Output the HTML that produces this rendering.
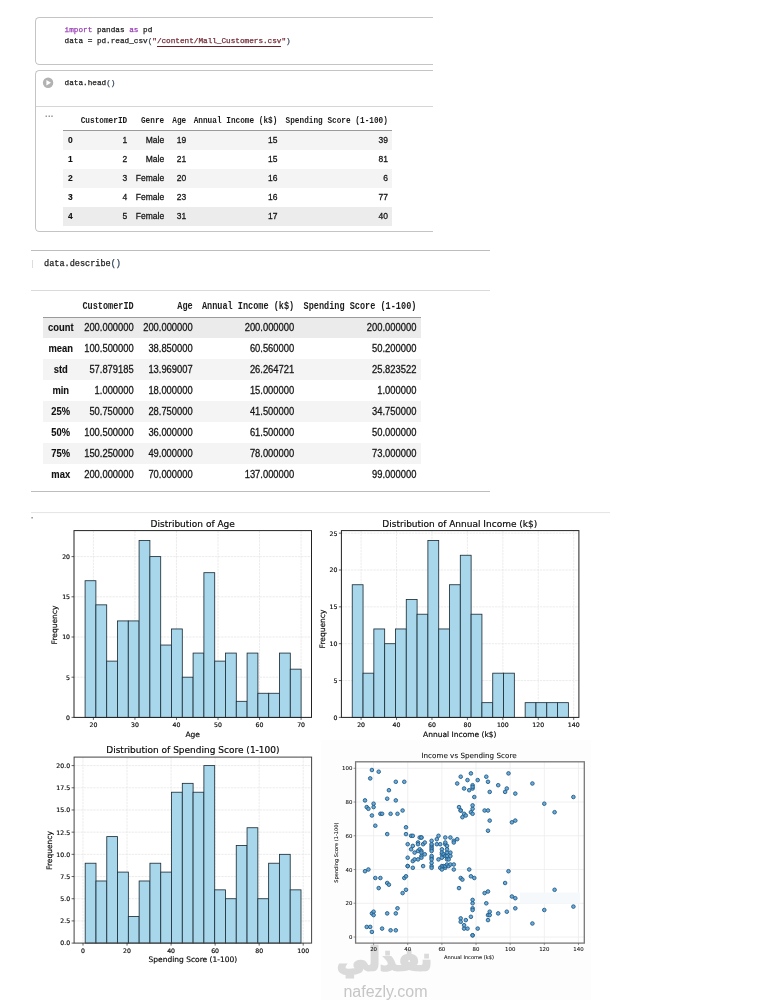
<!DOCTYPE html><html lang="en"><head><meta charset="utf-8"><title>Mall Customers</title><style>
html,body{margin:0;padding:0;background:#fff;}
body{width:770px;height:1000px;position:relative;overflow:hidden;font-family:"Liberation Sans",sans-serif;color:#1a1a1a;}
.abs{position:absolute;}
.code{position:absolute;font-family:"Liberation Mono",monospace;white-space:pre;color:#222;}
.c1{font-size:7.7px;line-height:11.8px;-webkit-text-stroke:0.25px;}
.c2{font-size:8.55px;line-height:12px;-webkit-text-stroke:0.25px;}
.kw{color:#9a3fb5;}
.str{color:#752b36;}
.par{color:#2e3f55;}
.hl{position:absolute;height:1px;background:#c9c9c9;}
table{position:absolute;border-collapse:collapse;table-layout:fixed;}
td,th{padding:0;white-space:nowrap;overflow:visible;text-align:right;font-weight:normal;}
#t1{left:63px;top:111px;font-size:8.5px;}
#t1 th{letter-spacing:0;font-family:"Liberation Mono",monospace;font-weight:bold;font-size:7.75px;height:19px;padding-right:4.3px;color:#1c1c1c;}
#t1 td{height:18.95px;padding-right:4.3px;color:#141414;-webkit-text-stroke:0.25px;}
#t1 thead tr{border-bottom:1px solid #9a9a9a;}
#t1 .ix{-webkit-text-stroke:0.12px;font-weight:bold;text-align:left;padding-left:5px;padding-right:0;color:#111;}
#t1 tr.g td{background:#f4f4f4;}#t1 tr.g:last-child td{background:#ececec;}
#t2{left:43px;top:295px;font-size:9.4px;}
#t2 th{letter-spacing:0;font-family:"Liberation Mono",monospace;font-weight:bold;font-size:8.55px;height:19.5px;padding-top:2px;padding-right:4.6px;color:#1c1c1c;}
#t2 td{height:20.9px;padding-right:4.6px;color:#141414;-webkit-text-stroke:0.25px;}
#t2 thead tr{border-bottom:1px solid #9a9a9a;}
#t2 .ix{-webkit-text-stroke:0.1px;font-weight:bold;text-align:center;padding-right:0;color:#111;}
#t2 tr.g td{background:#f4f4f4;}#t2 tr.g:first-child td{background:#ebebeb;}
svg text{font-family:"DejaVu Sans","Liberation Sans",sans-serif;fill:#0a0a0a;stroke:#0a0a0a;stroke-width:0.18px;}
svg text.s{stroke-width:0.07px;}
th span{display:inline-block;transform:scaleY(1.17);transform-origin:right center;}td span{display:inline-block;transform:scaleY(1.09);transform-origin:center center;}</style></head><body>
<div class="abs" style="left:35px;top:17px;width:398px;height:48px;border:1px solid #c4c4c4;border-right:none;border-radius:4.5px 0 0 4.5px;box-sizing:border-box;"></div>
<div class="code c1" style="left:64.6px;top:24.7px;"><span class="kw">import</span> pandas <span class="kw">as</span> pd
data = pd.read_csv<span class="par">(</span><span class="str">"<span style="border-bottom:1px solid #6a1f2a;padding-bottom:1px;">/content/Mall_Customers.csv</span>"</span><span class="par">)</span></div>
<div class="abs" style="left:35px;top:70px;width:398px;height:162px;border:1px solid #c4c4c4;border-right:none;border-radius:4.5px 0 0 4.5px;box-sizing:border-box;"></div>
<div class="hl" style="left:36px;top:106px;width:397px;background:#d6d6d6;"></div>
<svg class="abs" style="left:42px;top:77px;" width="12" height="12" viewBox="0 0 12 12"><circle cx="6.1" cy="5.7" r="5.2" fill="#b2b2b2"/><path d="M4.4 2.9 L9 5.7 L4.4 8.5 Z" fill="#fff"/></svg>
<div class="code c1" style="left:64.6px;top:78.3px;">data.head<span class="par">()</span></div>
<div class="abs" style="left:45px;top:108.5px;font-size:9px;font-weight:bold;color:#8c8c8c;letter-spacing:0.4px;">...</div>
<table id="t1"><colgroup><col style="width:14px"><col style="width:54.5px"><col style="width:37px"><col style="width:22px"><col style="width:91.2px"><col style="width:110.5px"></colgroup>
<thead><tr><th></th><th><span>CustomerID</span></th><th><span>Genre</span></th><th><span>Age</span></th><th><span>Annual Income (k$)</span></th><th><span>Spending Score (1-100)</span></th></tr></thead><tbody>
<tr class="g"><td class="ix"><span>0</span></td><td><span>1</span></td><td><span>Male</span></td><td><span>19</span></td><td><span>15</span></td><td><span>39</span></td></tr>
<tr class=""><td class="ix"><span>1</span></td><td><span>2</span></td><td><span>Male</span></td><td><span>21</span></td><td><span>15</span></td><td><span>81</span></td></tr>
<tr class="g"><td class="ix"><span>2</span></td><td><span>3</span></td><td><span>Female</span></td><td><span>20</span></td><td><span>16</span></td><td><span>6</span></td></tr>
<tr class=""><td class="ix"><span>3</span></td><td><span>4</span></td><td><span>Female</span></td><td><span>23</span></td><td><span>16</span></td><td><span>77</span></td></tr>
<tr class="g"><td class="ix"><span>4</span></td><td><span>5</span></td><td><span>Female</span></td><td><span>31</span></td><td><span>17</span></td><td><span>40</span></td></tr>
</tbody></table>
<div class="hl" style="left:31px;top:250px;width:459px;background:#bdbdbd;"></div>
<div class="abs" style="left:32px;top:260px;width:1px;height:8px;background:#ddd;"></div>
<div class="code c2" style="left:44px;top:258.2px;">data.describe<span class="par">()</span></div>
<div class="hl" style="left:31px;top:290px;width:459px;background:#dadada;"></div>
<table id="t2"><colgroup><col style="width:35.5px"><col style="width:59.8px"><col style="width:59px"><col style="width:101.5px"><col style="width:122.2px"></colgroup>
<thead><tr><th></th><th><span>CustomerID</span></th><th><span>Age</span></th><th><span>Annual Income (k$)</span></th><th><span>Spending Score (1-100)</span></th></tr></thead><tbody>
<tr class="g"><td class="ix"><span>count</span></td><td><span>200.000000</span></td><td><span>200.000000</span></td><td><span>200.000000</span></td><td><span>200.000000</span></td></tr>
<tr class=""><td class="ix"><span>mean</span></td><td><span>100.500000</span></td><td><span>38.850000</span></td><td><span>60.560000</span></td><td><span>50.200000</span></td></tr>
<tr class="g"><td class="ix"><span>std</span></td><td><span>57.879185</span></td><td><span>13.969007</span></td><td><span>26.264721</span></td><td><span>25.823522</span></td></tr>
<tr class=""><td class="ix"><span>min</span></td><td><span>1.000000</span></td><td><span>18.000000</span></td><td><span>15.000000</span></td><td><span>1.000000</span></td></tr>
<tr class="g"><td class="ix"><span>25%</span></td><td><span>50.750000</span></td><td><span>28.750000</span></td><td><span>41.500000</span></td><td><span>34.750000</span></td></tr>
<tr class=""><td class="ix"><span>50%</span></td><td><span>100.500000</span></td><td><span>36.000000</span></td><td><span>61.500000</span></td><td><span>50.000000</span></td></tr>
<tr class="g"><td class="ix"><span>75%</span></td><td><span>150.250000</span></td><td><span>49.000000</span></td><td><span>78.000000</span></td><td><span>73.000000</span></td></tr>
<tr class=""><td class="ix"><span>max</span></td><td><span>200.000000</span></td><td><span>70.000000</span></td><td><span>137.000000</span></td><td><span>99.000000</span></td></tr>
</tbody></table>
<div class="hl" style="left:31px;top:491px;width:459px;background:#bdbdbd;"></div>
<div class="abs" style="left:321px;top:740px;width:269.5px;height:260px;background:#fdfdfd;"></div>
<div class="abs" dir="rtl" lang="ar" style="left:337px;top:936.2px;line-height:46.5px;white-space:nowrap;font-family:'DejaVu Sans',sans-serif;font-weight:bold;font-size:31px;color:#dadada;-webkit-text-stroke:2.4px #dadada;">نفذلي</div>
<div class="abs" style="left:341.5px;top:983.1px;width:88px;text-align:center;font-family:'Liberation Sans',sans-serif;font-size:16px;line-height:18px;color:#c6c6c6;white-space:nowrap;">nafezly.com</div>
<svg class="abs" style="left:0;top:0;" width="770" height="1000" viewBox="0 0 770 1000">
<line x1="31" y1="512.6" x2="610" y2="512.6" stroke="#e4e4e4" stroke-width="1"/>
<rect x="31.5" y="517" width="1.2" height="1.5" fill="#777"/>
<g transform="translate(0.5,0)">
<rect x="73.5" y="530.6" width="237.5" height="186.79999999999995" fill="#fff"/>
<line x1="92.90" y1="530.6" x2="92.90" y2="717.4" stroke="#e4e4e4" stroke-width="0.7" stroke-dasharray="2.4 0.8"/>
<line x1="134.44" y1="530.6" x2="134.44" y2="717.4" stroke="#e4e4e4" stroke-width="0.7" stroke-dasharray="2.4 0.8"/>
<line x1="175.98" y1="530.6" x2="175.98" y2="717.4" stroke="#e4e4e4" stroke-width="0.7" stroke-dasharray="2.4 0.8"/>
<line x1="217.52" y1="530.6" x2="217.52" y2="717.4" stroke="#e4e4e4" stroke-width="0.7" stroke-dasharray="2.4 0.8"/>
<line x1="259.06" y1="530.6" x2="259.06" y2="717.4" stroke="#e4e4e4" stroke-width="0.7" stroke-dasharray="2.4 0.8"/>
<line x1="300.60" y1="530.6" x2="300.60" y2="717.4" stroke="#e4e4e4" stroke-width="0.7" stroke-dasharray="2.4 0.8"/>
<line x1="73.5" y1="717.40" x2="311" y2="717.40" stroke="#e4e4e4" stroke-width="0.7" stroke-dasharray="2.4 0.8"/>
<line x1="73.5" y1="677.20" x2="311" y2="677.20" stroke="#e4e4e4" stroke-width="0.7" stroke-dasharray="2.4 0.8"/>
<line x1="73.5" y1="637.00" x2="311" y2="637.00" stroke="#e4e4e4" stroke-width="0.7" stroke-dasharray="2.4 0.8"/>
<line x1="73.5" y1="596.80" x2="311" y2="596.80" stroke="#e4e4e4" stroke-width="0.7" stroke-dasharray="2.4 0.8"/>
<line x1="73.5" y1="556.60" x2="311" y2="556.60" stroke="#e4e4e4" stroke-width="0.7" stroke-dasharray="2.4 0.8"/>
<rect x="84.59" y="580.72" width="10.80" height="136.68" fill="#a8d7ec" stroke="#1f303a" stroke-width="0.85"/>
<rect x="95.39" y="604.84" width="10.80" height="112.56" fill="#a8d7ec" stroke="#1f303a" stroke-width="0.85"/>
<rect x="106.19" y="661.12" width="10.80" height="56.28" fill="#a8d7ec" stroke="#1f303a" stroke-width="0.85"/>
<rect x="116.99" y="620.92" width="10.80" height="96.48" fill="#a8d7ec" stroke="#1f303a" stroke-width="0.85"/>
<rect x="127.79" y="620.92" width="10.80" height="96.48" fill="#a8d7ec" stroke="#1f303a" stroke-width="0.85"/>
<rect x="138.59" y="540.52" width="10.80" height="176.88" fill="#a8d7ec" stroke="#1f303a" stroke-width="0.85"/>
<rect x="149.39" y="556.60" width="10.80" height="160.80" fill="#a8d7ec" stroke="#1f303a" stroke-width="0.85"/>
<rect x="160.19" y="645.04" width="10.80" height="72.36" fill="#a8d7ec" stroke="#1f303a" stroke-width="0.85"/>
<rect x="171.00" y="628.96" width="10.80" height="88.44" fill="#a8d7ec" stroke="#1f303a" stroke-width="0.85"/>
<rect x="181.80" y="677.20" width="10.80" height="40.20" fill="#a8d7ec" stroke="#1f303a" stroke-width="0.85"/>
<rect x="192.60" y="653.08" width="10.80" height="64.32" fill="#a8d7ec" stroke="#1f303a" stroke-width="0.85"/>
<rect x="203.40" y="572.68" width="10.80" height="144.72" fill="#a8d7ec" stroke="#1f303a" stroke-width="0.85"/>
<rect x="214.20" y="661.12" width="10.80" height="56.28" fill="#a8d7ec" stroke="#1f303a" stroke-width="0.85"/>
<rect x="225.00" y="653.08" width="10.80" height="64.32" fill="#a8d7ec" stroke="#1f303a" stroke-width="0.85"/>
<rect x="235.80" y="701.32" width="10.80" height="16.08" fill="#a8d7ec" stroke="#1f303a" stroke-width="0.85"/>
<rect x="246.60" y="653.08" width="10.80" height="64.32" fill="#a8d7ec" stroke="#1f303a" stroke-width="0.85"/>
<rect x="257.40" y="693.28" width="10.80" height="24.12" fill="#a8d7ec" stroke="#1f303a" stroke-width="0.85"/>
<rect x="268.20" y="693.28" width="10.80" height="24.12" fill="#a8d7ec" stroke="#1f303a" stroke-width="0.85"/>
<rect x="279.00" y="653.08" width="10.80" height="64.32" fill="#a8d7ec" stroke="#1f303a" stroke-width="0.85"/>
<rect x="289.80" y="669.16" width="10.80" height="48.24" fill="#a8d7ec" stroke="#1f303a" stroke-width="0.85"/>
<rect x="73.5" y="530.6" width="237.5" height="186.79999999999995" fill="none" stroke="#222" stroke-width="1"/>
<line x1="92.90" y1="717.4" x2="92.90" y2="719.9" stroke="#222" stroke-width="0.7"/>
<text x="92.90" y="727.0" font-size="6.2" text-anchor="middle">20</text>
<line x1="134.44" y1="717.4" x2="134.44" y2="719.9" stroke="#222" stroke-width="0.7"/>
<text x="134.44" y="727.0" font-size="6.2" text-anchor="middle">30</text>
<line x1="175.98" y1="717.4" x2="175.98" y2="719.9" stroke="#222" stroke-width="0.7"/>
<text x="175.98" y="727.0" font-size="6.2" text-anchor="middle">40</text>
<line x1="217.52" y1="717.4" x2="217.52" y2="719.9" stroke="#222" stroke-width="0.7"/>
<text x="217.52" y="727.0" font-size="6.2" text-anchor="middle">50</text>
<line x1="259.06" y1="717.4" x2="259.06" y2="719.9" stroke="#222" stroke-width="0.7"/>
<text x="259.06" y="727.0" font-size="6.2" text-anchor="middle">60</text>
<line x1="300.60" y1="717.4" x2="300.60" y2="719.9" stroke="#222" stroke-width="0.7"/>
<text x="300.60" y="727.0" font-size="6.2" text-anchor="middle">70</text>
<line x1="71.0" y1="717.40" x2="73.5" y2="717.40" stroke="#222" stroke-width="0.7"/>
<text x="69.5" y="719.75" font-size="6.2" text-anchor="end">0</text>
<line x1="71.0" y1="677.20" x2="73.5" y2="677.20" stroke="#222" stroke-width="0.7"/>
<text x="69.5" y="679.55" font-size="6.2" text-anchor="end">5</text>
<line x1="71.0" y1="637.00" x2="73.5" y2="637.00" stroke="#222" stroke-width="0.7"/>
<text x="69.5" y="639.35" font-size="6.2" text-anchor="end">10</text>
<line x1="71.0" y1="596.80" x2="73.5" y2="596.80" stroke="#222" stroke-width="0.7"/>
<text x="69.5" y="599.15" font-size="6.2" text-anchor="end">15</text>
<line x1="71.0" y1="556.60" x2="73.5" y2="556.60" stroke="#222" stroke-width="0.7"/>
<text x="69.5" y="558.95" font-size="6.2" text-anchor="end">20</text>
<text x="192.2" y="527.3" font-size="9" text-anchor="middle">Distribution of Age</text>
<text x="192.2" y="737.4" font-size="7.5" text-anchor="middle">Age</text>
<text transform="translate(56.8,625) rotate(-90)" font-size="7.5" text-anchor="middle">Frequency</text>
</g>
<rect x="341.4" y="530.6" width="237.5" height="186.79999999999995" fill="#fff"/>
<line x1="361.10" y1="530.6" x2="361.10" y2="717.4" stroke="#e4e4e4" stroke-width="0.7" stroke-dasharray="2.4 0.8"/>
<line x1="396.53" y1="530.6" x2="396.53" y2="717.4" stroke="#e4e4e4" stroke-width="0.7" stroke-dasharray="2.4 0.8"/>
<line x1="431.96" y1="530.6" x2="431.96" y2="717.4" stroke="#e4e4e4" stroke-width="0.7" stroke-dasharray="2.4 0.8"/>
<line x1="467.40" y1="530.6" x2="467.40" y2="717.4" stroke="#e4e4e4" stroke-width="0.7" stroke-dasharray="2.4 0.8"/>
<line x1="502.83" y1="530.6" x2="502.83" y2="717.4" stroke="#e4e4e4" stroke-width="0.7" stroke-dasharray="2.4 0.8"/>
<line x1="538.27" y1="530.6" x2="538.27" y2="717.4" stroke="#e4e4e4" stroke-width="0.7" stroke-dasharray="2.4 0.8"/>
<line x1="573.70" y1="530.6" x2="573.70" y2="717.4" stroke="#e4e4e4" stroke-width="0.7" stroke-dasharray="2.4 0.8"/>
<line x1="341.4" y1="717.40" x2="578.9" y2="717.40" stroke="#e4e4e4" stroke-width="0.7" stroke-dasharray="2.4 0.8"/>
<line x1="341.4" y1="680.55" x2="578.9" y2="680.55" stroke="#e4e4e4" stroke-width="0.7" stroke-dasharray="2.4 0.8"/>
<line x1="341.4" y1="643.70" x2="578.9" y2="643.70" stroke="#e4e4e4" stroke-width="0.7" stroke-dasharray="2.4 0.8"/>
<line x1="341.4" y1="606.85" x2="578.9" y2="606.85" stroke="#e4e4e4" stroke-width="0.7" stroke-dasharray="2.4 0.8"/>
<line x1="341.4" y1="570.00" x2="578.9" y2="570.00" stroke="#e4e4e4" stroke-width="0.7" stroke-dasharray="2.4 0.8"/>
<line x1="341.4" y1="533.15" x2="578.9" y2="533.15" stroke="#e4e4e4" stroke-width="0.7" stroke-dasharray="2.4 0.8"/>
<rect x="352.24" y="584.74" width="10.81" height="132.66" fill="#a8d7ec" stroke="#1f303a" stroke-width="0.85"/>
<rect x="363.05" y="673.18" width="10.81" height="44.22" fill="#a8d7ec" stroke="#1f303a" stroke-width="0.85"/>
<rect x="373.85" y="628.96" width="10.81" height="88.44" fill="#a8d7ec" stroke="#1f303a" stroke-width="0.85"/>
<rect x="384.66" y="643.70" width="10.81" height="73.70" fill="#a8d7ec" stroke="#1f303a" stroke-width="0.85"/>
<rect x="395.47" y="628.96" width="10.81" height="88.44" fill="#a8d7ec" stroke="#1f303a" stroke-width="0.85"/>
<rect x="406.28" y="599.48" width="10.81" height="117.92" fill="#a8d7ec" stroke="#1f303a" stroke-width="0.85"/>
<rect x="417.08" y="614.22" width="10.81" height="103.18" fill="#a8d7ec" stroke="#1f303a" stroke-width="0.85"/>
<rect x="427.89" y="540.52" width="10.81" height="176.88" fill="#a8d7ec" stroke="#1f303a" stroke-width="0.85"/>
<rect x="438.70" y="628.96" width="10.81" height="88.44" fill="#a8d7ec" stroke="#1f303a" stroke-width="0.85"/>
<rect x="449.50" y="584.74" width="10.81" height="132.66" fill="#a8d7ec" stroke="#1f303a" stroke-width="0.85"/>
<rect x="460.31" y="555.26" width="10.81" height="162.14" fill="#a8d7ec" stroke="#1f303a" stroke-width="0.85"/>
<rect x="471.12" y="614.22" width="10.81" height="103.18" fill="#a8d7ec" stroke="#1f303a" stroke-width="0.85"/>
<rect x="481.93" y="702.66" width="10.81" height="14.74" fill="#a8d7ec" stroke="#1f303a" stroke-width="0.85"/>
<rect x="492.73" y="673.18" width="10.81" height="44.22" fill="#a8d7ec" stroke="#1f303a" stroke-width="0.85"/>
<rect x="503.54" y="673.18" width="10.81" height="44.22" fill="#a8d7ec" stroke="#1f303a" stroke-width="0.85"/>
<rect x="525.16" y="702.66" width="10.81" height="14.74" fill="#a8d7ec" stroke="#1f303a" stroke-width="0.85"/>
<rect x="535.96" y="702.66" width="10.81" height="14.74" fill="#a8d7ec" stroke="#1f303a" stroke-width="0.85"/>
<rect x="546.77" y="702.66" width="10.81" height="14.74" fill="#a8d7ec" stroke="#1f303a" stroke-width="0.85"/>
<rect x="557.58" y="702.66" width="10.81" height="14.74" fill="#a8d7ec" stroke="#1f303a" stroke-width="0.85"/>
<rect x="341.4" y="530.6" width="237.5" height="186.79999999999995" fill="none" stroke="#222" stroke-width="1"/>
<line x1="361.10" y1="717.4" x2="361.10" y2="719.9" stroke="#222" stroke-width="0.7"/>
<text x="361.10" y="727.0" font-size="6.2" text-anchor="middle">20</text>
<line x1="396.53" y1="717.4" x2="396.53" y2="719.9" stroke="#222" stroke-width="0.7"/>
<text x="396.53" y="727.0" font-size="6.2" text-anchor="middle">40</text>
<line x1="431.96" y1="717.4" x2="431.96" y2="719.9" stroke="#222" stroke-width="0.7"/>
<text x="431.96" y="727.0" font-size="6.2" text-anchor="middle">60</text>
<line x1="467.40" y1="717.4" x2="467.40" y2="719.9" stroke="#222" stroke-width="0.7"/>
<text x="467.40" y="727.0" font-size="6.2" text-anchor="middle">80</text>
<line x1="502.83" y1="717.4" x2="502.83" y2="719.9" stroke="#222" stroke-width="0.7"/>
<text x="502.83" y="727.0" font-size="6.2" text-anchor="middle">100</text>
<line x1="538.27" y1="717.4" x2="538.27" y2="719.9" stroke="#222" stroke-width="0.7"/>
<text x="538.27" y="727.0" font-size="6.2" text-anchor="middle">120</text>
<line x1="573.70" y1="717.4" x2="573.70" y2="719.9" stroke="#222" stroke-width="0.7"/>
<text x="573.70" y="727.0" font-size="6.2" text-anchor="middle">140</text>
<line x1="338.9" y1="717.40" x2="341.4" y2="717.40" stroke="#222" stroke-width="0.7"/>
<text x="337.4" y="719.75" font-size="6.2" text-anchor="end">0</text>
<line x1="338.9" y1="680.55" x2="341.4" y2="680.55" stroke="#222" stroke-width="0.7"/>
<text x="337.4" y="682.90" font-size="6.2" text-anchor="end">5</text>
<line x1="338.9" y1="643.70" x2="341.4" y2="643.70" stroke="#222" stroke-width="0.7"/>
<text x="337.4" y="646.05" font-size="6.2" text-anchor="end">10</text>
<line x1="338.9" y1="606.85" x2="341.4" y2="606.85" stroke="#222" stroke-width="0.7"/>
<text x="337.4" y="609.20" font-size="6.2" text-anchor="end">15</text>
<line x1="338.9" y1="570.00" x2="341.4" y2="570.00" stroke="#222" stroke-width="0.7"/>
<text x="337.4" y="572.35" font-size="6.2" text-anchor="end">20</text>
<line x1="338.9" y1="533.15" x2="341.4" y2="533.15" stroke="#222" stroke-width="0.7"/>
<text x="337.4" y="535.50" font-size="6.2" text-anchor="end">25</text>
<text x="459.8" y="527.3" font-size="9" text-anchor="middle">Distribution of Annual Income (k$)</text>
<text x="459.8" y="737.4" font-size="7.5" text-anchor="middle">Annual Income (k$)</text>
<text transform="translate(324.7,629) rotate(-90)" font-size="7.5" text-anchor="middle">Frequency</text>
<g transform="translate(0.6,0)">
<rect x="73.5" y="757.1" width="237.5" height="186.0" fill="#fff"/>
<line x1="82.40" y1="757.1" x2="82.40" y2="943.1" stroke="#e4e4e4" stroke-width="0.7" stroke-dasharray="2.4 0.8"/>
<line x1="126.44" y1="757.1" x2="126.44" y2="943.1" stroke="#e4e4e4" stroke-width="0.7" stroke-dasharray="2.4 0.8"/>
<line x1="170.48" y1="757.1" x2="170.48" y2="943.1" stroke="#e4e4e4" stroke-width="0.7" stroke-dasharray="2.4 0.8"/>
<line x1="214.52" y1="757.1" x2="214.52" y2="943.1" stroke="#e4e4e4" stroke-width="0.7" stroke-dasharray="2.4 0.8"/>
<line x1="258.56" y1="757.1" x2="258.56" y2="943.1" stroke="#e4e4e4" stroke-width="0.7" stroke-dasharray="2.4 0.8"/>
<line x1="302.60" y1="757.1" x2="302.60" y2="943.1" stroke="#e4e4e4" stroke-width="0.7" stroke-dasharray="2.4 0.8"/>
<line x1="73.5" y1="943.10" x2="311" y2="943.10" stroke="#e4e4e4" stroke-width="0.7" stroke-dasharray="2.4 0.8"/>
<line x1="73.5" y1="920.91" x2="311" y2="920.91" stroke="#e4e4e4" stroke-width="0.7" stroke-dasharray="2.4 0.8"/>
<line x1="73.5" y1="898.73" x2="311" y2="898.73" stroke="#e4e4e4" stroke-width="0.7" stroke-dasharray="2.4 0.8"/>
<line x1="73.5" y1="876.54" x2="311" y2="876.54" stroke="#e4e4e4" stroke-width="0.7" stroke-dasharray="2.4 0.8"/>
<line x1="73.5" y1="854.35" x2="311" y2="854.35" stroke="#e4e4e4" stroke-width="0.7" stroke-dasharray="2.4 0.8"/>
<line x1="73.5" y1="832.16" x2="311" y2="832.16" stroke="#e4e4e4" stroke-width="0.7" stroke-dasharray="2.4 0.8"/>
<line x1="73.5" y1="809.98" x2="311" y2="809.98" stroke="#e4e4e4" stroke-width="0.7" stroke-dasharray="2.4 0.8"/>
<line x1="73.5" y1="787.79" x2="311" y2="787.79" stroke="#e4e4e4" stroke-width="0.7" stroke-dasharray="2.4 0.8"/>
<line x1="73.5" y1="765.60" x2="311" y2="765.60" stroke="#e4e4e4" stroke-width="0.7" stroke-dasharray="2.4 0.8"/>
<rect x="84.60" y="863.23" width="10.79" height="79.88" fill="#a8d7ec" stroke="#1f303a" stroke-width="0.85"/>
<rect x="95.39" y="880.98" width="10.79" height="62.12" fill="#a8d7ec" stroke="#1f303a" stroke-width="0.85"/>
<rect x="106.18" y="836.60" width="10.79" height="106.50" fill="#a8d7ec" stroke="#1f303a" stroke-width="0.85"/>
<rect x="116.97" y="872.10" width="10.79" height="71.00" fill="#a8d7ec" stroke="#1f303a" stroke-width="0.85"/>
<rect x="127.76" y="916.48" width="10.79" height="26.62" fill="#a8d7ec" stroke="#1f303a" stroke-width="0.85"/>
<rect x="138.55" y="880.98" width="10.79" height="62.12" fill="#a8d7ec" stroke="#1f303a" stroke-width="0.85"/>
<rect x="149.34" y="863.23" width="10.79" height="79.88" fill="#a8d7ec" stroke="#1f303a" stroke-width="0.85"/>
<rect x="160.13" y="872.10" width="10.79" height="71.00" fill="#a8d7ec" stroke="#1f303a" stroke-width="0.85"/>
<rect x="170.92" y="792.23" width="10.79" height="150.88" fill="#a8d7ec" stroke="#1f303a" stroke-width="0.85"/>
<rect x="181.71" y="783.35" width="10.79" height="159.75" fill="#a8d7ec" stroke="#1f303a" stroke-width="0.85"/>
<rect x="192.50" y="792.23" width="10.79" height="150.88" fill="#a8d7ec" stroke="#1f303a" stroke-width="0.85"/>
<rect x="203.29" y="765.60" width="10.79" height="177.50" fill="#a8d7ec" stroke="#1f303a" stroke-width="0.85"/>
<rect x="214.08" y="889.85" width="10.79" height="53.25" fill="#a8d7ec" stroke="#1f303a" stroke-width="0.85"/>
<rect x="224.87" y="898.73" width="10.79" height="44.38" fill="#a8d7ec" stroke="#1f303a" stroke-width="0.85"/>
<rect x="235.66" y="845.48" width="10.79" height="97.62" fill="#a8d7ec" stroke="#1f303a" stroke-width="0.85"/>
<rect x="246.45" y="827.73" width="10.79" height="115.38" fill="#a8d7ec" stroke="#1f303a" stroke-width="0.85"/>
<rect x="257.24" y="898.73" width="10.79" height="44.38" fill="#a8d7ec" stroke="#1f303a" stroke-width="0.85"/>
<rect x="268.03" y="863.23" width="10.79" height="79.88" fill="#a8d7ec" stroke="#1f303a" stroke-width="0.85"/>
<rect x="278.82" y="854.35" width="10.79" height="88.75" fill="#a8d7ec" stroke="#1f303a" stroke-width="0.85"/>
<rect x="289.61" y="889.85" width="10.79" height="53.25" fill="#a8d7ec" stroke="#1f303a" stroke-width="0.85"/>
<rect x="73.5" y="757.1" width="237.5" height="186.0" fill="none" stroke="#444" stroke-width="1"/>
<line x1="82.40" y1="943.1" x2="82.40" y2="945.6" stroke="#222" stroke-width="0.7"/>
<text x="82.40" y="952.7" font-size="6.2" text-anchor="middle">0</text>
<line x1="126.44" y1="943.1" x2="126.44" y2="945.6" stroke="#222" stroke-width="0.7"/>
<text x="126.44" y="952.7" font-size="6.2" text-anchor="middle">20</text>
<line x1="170.48" y1="943.1" x2="170.48" y2="945.6" stroke="#222" stroke-width="0.7"/>
<text x="170.48" y="952.7" font-size="6.2" text-anchor="middle">40</text>
<line x1="214.52" y1="943.1" x2="214.52" y2="945.6" stroke="#222" stroke-width="0.7"/>
<text x="214.52" y="952.7" font-size="6.2" text-anchor="middle">60</text>
<line x1="258.56" y1="943.1" x2="258.56" y2="945.6" stroke="#222" stroke-width="0.7"/>
<text x="258.56" y="952.7" font-size="6.2" text-anchor="middle">80</text>
<line x1="302.60" y1="943.1" x2="302.60" y2="945.6" stroke="#222" stroke-width="0.7"/>
<text x="302.60" y="952.7" font-size="6.2" text-anchor="middle">100</text>
<line x1="71.0" y1="943.10" x2="73.5" y2="943.10" stroke="#222" stroke-width="0.7"/>
<text x="69.5" y="945.45" font-size="6.2" text-anchor="end">0.0</text>
<line x1="71.0" y1="920.91" x2="73.5" y2="920.91" stroke="#222" stroke-width="0.7"/>
<text x="69.5" y="923.26" font-size="6.2" text-anchor="end">2.5</text>
<line x1="71.0" y1="898.73" x2="73.5" y2="898.73" stroke="#222" stroke-width="0.7"/>
<text x="69.5" y="901.08" font-size="6.2" text-anchor="end">5.0</text>
<line x1="71.0" y1="876.54" x2="73.5" y2="876.54" stroke="#222" stroke-width="0.7"/>
<text x="69.5" y="878.89" font-size="6.2" text-anchor="end">7.5</text>
<line x1="71.0" y1="854.35" x2="73.5" y2="854.35" stroke="#222" stroke-width="0.7"/>
<text x="69.5" y="856.70" font-size="6.2" text-anchor="end">10.0</text>
<line x1="71.0" y1="832.16" x2="73.5" y2="832.16" stroke="#222" stroke-width="0.7"/>
<text x="69.5" y="834.51" font-size="6.2" text-anchor="end">12.5</text>
<line x1="71.0" y1="809.98" x2="73.5" y2="809.98" stroke="#222" stroke-width="0.7"/>
<text x="69.5" y="812.33" font-size="6.2" text-anchor="end">15.0</text>
<line x1="71.0" y1="787.79" x2="73.5" y2="787.79" stroke="#222" stroke-width="0.7"/>
<text x="69.5" y="790.14" font-size="6.2" text-anchor="end">17.5</text>
<line x1="71.0" y1="765.60" x2="73.5" y2="765.60" stroke="#222" stroke-width="0.7"/>
<text x="69.5" y="767.95" font-size="6.2" text-anchor="end">20.0</text>
<text x="192.3" y="753" font-size="9" text-anchor="middle">Distribution of Spending Score (1-100)</text>
<text x="192.3" y="962.3" font-size="7.5" text-anchor="middle">Spending Score (1-100)</text>
<text transform="translate(50.9,850.5) rotate(-90)" font-size="7.5" text-anchor="middle">Frequency</text>
</g>
<rect x="355.6" y="761.8" width="228.69999999999993" height="181.30000000000007" fill="#fff"/>
<line x1="373.57" y1="761.8" x2="373.57" y2="943.1" stroke="#ececec" stroke-width="0.8"/>
<line x1="407.72" y1="761.8" x2="407.72" y2="943.1" stroke="#ececec" stroke-width="0.8"/>
<line x1="441.88" y1="761.8" x2="441.88" y2="943.1" stroke="#ececec" stroke-width="0.8"/>
<line x1="476.03" y1="761.8" x2="476.03" y2="943.1" stroke="#ececec" stroke-width="0.8"/>
<line x1="510.18" y1="761.8" x2="510.18" y2="943.1" stroke="#ececec" stroke-width="0.8"/>
<line x1="544.33" y1="761.8" x2="544.33" y2="943.1" stroke="#ececec" stroke-width="0.8"/>
<line x1="578.48" y1="761.8" x2="578.48" y2="943.1" stroke="#ececec" stroke-width="0.8"/>
<line x1="355.6" y1="937.00" x2="584.3" y2="937.00" stroke="#ececec" stroke-width="0.8"/>
<line x1="355.6" y1="903.26" x2="584.3" y2="903.26" stroke="#ececec" stroke-width="0.8"/>
<line x1="355.6" y1="869.52" x2="584.3" y2="869.52" stroke="#ececec" stroke-width="0.8"/>
<line x1="355.6" y1="835.78" x2="584.3" y2="835.78" stroke="#ececec" stroke-width="0.8"/>
<line x1="355.6" y1="802.04" x2="584.3" y2="802.04" stroke="#ececec" stroke-width="0.8"/>
<line x1="355.6" y1="768.30" x2="584.3" y2="768.30" stroke="#ececec" stroke-width="0.8"/>
<rect x="520" y="892.5" width="60" height="11" fill="#f6f9fc"/>
<g fill="#5ba3d4" fill-opacity="0.9" stroke="#235a86" stroke-width="0.9">
<circle cx="365.0" cy="871.2" r="1.8"/>
<circle cx="365.0" cy="800.4" r="1.8"/>
<circle cx="366.7" cy="926.9" r="1.8"/>
<circle cx="366.7" cy="807.1" r="1.8"/>
<circle cx="368.4" cy="869.5" r="1.8"/>
<circle cx="368.4" cy="808.8" r="1.8"/>
<circle cx="370.2" cy="926.9" r="1.8"/>
<circle cx="370.2" cy="778.4" r="1.8"/>
<circle cx="371.9" cy="931.9" r="1.8"/>
<circle cx="371.9" cy="815.5" r="1.8"/>
<circle cx="371.9" cy="913.4" r="1.8"/>
<circle cx="371.9" cy="770.0" r="1.8"/>
<circle cx="373.6" cy="911.7" r="1.8"/>
<circle cx="373.6" cy="807.1" r="1.8"/>
<circle cx="373.6" cy="915.1" r="1.8"/>
<circle cx="373.6" cy="803.7" r="1.8"/>
<circle cx="375.3" cy="878.0" r="1.8"/>
<circle cx="375.3" cy="825.7" r="1.8"/>
<circle cx="378.7" cy="888.1" r="1.8"/>
<circle cx="378.7" cy="771.7" r="1.8"/>
<circle cx="380.4" cy="878.0" r="1.8"/>
<circle cx="380.4" cy="813.8" r="1.8"/>
<circle cx="382.1" cy="928.6" r="1.8"/>
<circle cx="382.1" cy="813.8" r="1.8"/>
<circle cx="387.2" cy="913.4" r="1.8"/>
<circle cx="387.2" cy="798.7" r="1.8"/>
<circle cx="387.2" cy="883.0" r="1.8"/>
<circle cx="387.2" cy="834.1" r="1.8"/>
<circle cx="388.9" cy="884.7" r="1.8"/>
<circle cx="388.9" cy="790.2" r="1.8"/>
<circle cx="390.6" cy="930.3" r="1.8"/>
<circle cx="390.6" cy="813.8" r="1.8"/>
<circle cx="395.8" cy="930.3" r="1.8"/>
<circle cx="395.8" cy="781.8" r="1.8"/>
<circle cx="395.8" cy="913.4" r="1.8"/>
<circle cx="395.8" cy="800.4" r="1.8"/>
<circle cx="397.5" cy="908.3" r="1.8"/>
<circle cx="397.5" cy="813.8" r="1.8"/>
<circle cx="402.6" cy="893.1" r="1.8"/>
<circle cx="402.6" cy="810.5" r="1.8"/>
<circle cx="404.3" cy="878.0" r="1.8"/>
<circle cx="404.3" cy="781.8" r="1.8"/>
<circle cx="406.0" cy="876.3" r="1.8"/>
<circle cx="406.0" cy="834.1" r="1.8"/>
<circle cx="406.0" cy="889.8" r="1.8"/>
<circle cx="406.0" cy="827.3" r="1.8"/>
<circle cx="407.7" cy="844.2" r="1.8"/>
<circle cx="407.7" cy="857.7" r="1.8"/>
<circle cx="407.7" cy="866.1" r="1.8"/>
<circle cx="407.7" cy="866.1" r="1.8"/>
<circle cx="411.1" cy="849.3" r="1.8"/>
<circle cx="411.1" cy="835.8" r="1.8"/>
<circle cx="412.8" cy="845.9" r="1.8"/>
<circle cx="412.8" cy="835.8" r="1.8"/>
<circle cx="412.8" cy="861.1" r="1.8"/>
<circle cx="412.8" cy="867.8" r="1.8"/>
<circle cx="414.6" cy="852.6" r="1.8"/>
<circle cx="414.6" cy="859.4" r="1.8"/>
<circle cx="418.0" cy="851.0" r="1.8"/>
<circle cx="418.0" cy="859.4" r="1.8"/>
<circle cx="418.0" cy="842.5" r="1.8"/>
<circle cx="418.0" cy="844.2" r="1.8"/>
<circle cx="419.7" cy="849.3" r="1.8"/>
<circle cx="419.7" cy="837.5" r="1.8"/>
<circle cx="421.4" cy="851.0" r="1.8"/>
<circle cx="421.4" cy="837.5" r="1.8"/>
<circle cx="421.4" cy="852.6" r="1.8"/>
<circle cx="421.4" cy="856.0" r="1.8"/>
<circle cx="421.4" cy="837.5" r="1.8"/>
<circle cx="421.4" cy="857.7" r="1.8"/>
<circle cx="423.1" cy="844.2" r="1.8"/>
<circle cx="423.1" cy="866.1" r="1.8"/>
<circle cx="424.8" cy="854.3" r="1.8"/>
<circle cx="424.8" cy="842.5" r="1.8"/>
<circle cx="431.6" cy="857.7" r="1.8"/>
<circle cx="431.6" cy="845.9" r="1.8"/>
<circle cx="431.6" cy="847.6" r="1.8"/>
<circle cx="431.6" cy="856.0" r="1.8"/>
<circle cx="431.6" cy="849.3" r="1.8"/>
<circle cx="431.6" cy="866.1" r="1.8"/>
<circle cx="431.6" cy="851.0" r="1.8"/>
<circle cx="431.6" cy="844.2" r="1.8"/>
<circle cx="431.6" cy="867.8" r="1.8"/>
<circle cx="431.6" cy="862.8" r="1.8"/>
<circle cx="431.6" cy="840.8" r="1.8"/>
<circle cx="431.6" cy="859.4" r="1.8"/>
<circle cx="436.8" cy="839.2" r="1.8"/>
<circle cx="436.8" cy="844.2" r="1.8"/>
<circle cx="438.5" cy="835.8" r="1.8"/>
<circle cx="438.5" cy="859.4" r="1.8"/>
<circle cx="440.2" cy="844.2" r="1.8"/>
<circle cx="440.2" cy="867.8" r="1.8"/>
<circle cx="441.9" cy="854.3" r="1.8"/>
<circle cx="441.9" cy="869.5" r="1.8"/>
<circle cx="441.9" cy="866.1" r="1.8"/>
<circle cx="441.9" cy="849.3" r="1.8"/>
<circle cx="441.9" cy="857.7" r="1.8"/>
<circle cx="441.9" cy="852.6" r="1.8"/>
<circle cx="443.6" cy="866.1" r="1.8"/>
<circle cx="443.6" cy="854.3" r="1.8"/>
<circle cx="445.3" cy="867.8" r="1.8"/>
<circle cx="445.3" cy="856.0" r="1.8"/>
<circle cx="445.3" cy="837.5" r="1.8"/>
<circle cx="445.3" cy="844.2" r="1.8"/>
<circle cx="445.3" cy="842.5" r="1.8"/>
<circle cx="445.3" cy="866.1" r="1.8"/>
<circle cx="447.0" cy="852.6" r="1.8"/>
<circle cx="447.0" cy="859.4" r="1.8"/>
<circle cx="447.0" cy="864.5" r="1.8"/>
<circle cx="447.0" cy="856.0" r="1.8"/>
<circle cx="447.0" cy="849.3" r="1.8"/>
<circle cx="447.0" cy="845.9" r="1.8"/>
<circle cx="448.7" cy="866.1" r="1.8"/>
<circle cx="448.7" cy="859.4" r="1.8"/>
<circle cx="450.4" cy="856.0" r="1.8"/>
<circle cx="450.4" cy="852.6" r="1.8"/>
<circle cx="450.4" cy="864.5" r="1.8"/>
<circle cx="450.4" cy="837.5" r="1.8"/>
<circle cx="453.8" cy="864.5" r="1.8"/>
<circle cx="453.8" cy="840.8" r="1.8"/>
<circle cx="453.8" cy="842.5" r="1.8"/>
<circle cx="453.8" cy="869.5" r="1.8"/>
<circle cx="457.2" cy="839.2" r="1.8"/>
<circle cx="457.2" cy="783.5" r="1.8"/>
<circle cx="459.0" cy="888.1" r="1.8"/>
<circle cx="459.0" cy="807.1" r="1.8"/>
<circle cx="460.7" cy="878.0" r="1.8"/>
<circle cx="460.7" cy="776.7" r="1.8"/>
<circle cx="460.7" cy="918.4" r="1.8"/>
<circle cx="460.7" cy="810.5" r="1.8"/>
<circle cx="460.7" cy="921.8" r="1.8"/>
<circle cx="460.7" cy="810.5" r="1.8"/>
<circle cx="462.4" cy="879.6" r="1.8"/>
<circle cx="462.4" cy="817.2" r="1.8"/>
<circle cx="464.1" cy="928.6" r="1.8"/>
<circle cx="464.1" cy="788.5" r="1.8"/>
<circle cx="464.1" cy="925.2" r="1.8"/>
<circle cx="464.1" cy="813.8" r="1.8"/>
<circle cx="465.8" cy="920.1" r="1.8"/>
<circle cx="465.8" cy="815.5" r="1.8"/>
<circle cx="467.5" cy="928.6" r="1.8"/>
<circle cx="467.5" cy="780.1" r="1.8"/>
<circle cx="469.2" cy="869.5" r="1.8"/>
<circle cx="469.2" cy="790.2" r="1.8"/>
<circle cx="470.9" cy="916.8" r="1.8"/>
<circle cx="470.9" cy="773.4" r="1.8"/>
<circle cx="470.9" cy="876.3" r="1.8"/>
<circle cx="470.9" cy="812.2" r="1.8"/>
<circle cx="472.6" cy="899.9" r="1.8"/>
<circle cx="472.6" cy="785.2" r="1.8"/>
<circle cx="472.6" cy="908.3" r="1.8"/>
<circle cx="472.6" cy="788.5" r="1.8"/>
<circle cx="472.6" cy="903.3" r="1.8"/>
<circle cx="472.6" cy="808.8" r="1.8"/>
<circle cx="472.6" cy="910.0" r="1.8"/>
<circle cx="472.6" cy="786.9" r="1.8"/>
<circle cx="472.6" cy="935.3" r="1.8"/>
<circle cx="472.6" cy="805.4" r="1.8"/>
<circle cx="472.6" cy="935.3" r="1.8"/>
<circle cx="472.6" cy="813.8" r="1.8"/>
<circle cx="474.3" cy="878.0" r="1.8"/>
<circle cx="474.3" cy="797.0" r="1.8"/>
<circle cx="477.7" cy="928.6" r="1.8"/>
<circle cx="477.7" cy="780.1" r="1.8"/>
<circle cx="484.6" cy="893.1" r="1.8"/>
<circle cx="484.6" cy="810.5" r="1.8"/>
<circle cx="486.3" cy="903.3" r="1.8"/>
<circle cx="486.3" cy="776.7" r="1.8"/>
<circle cx="488.0" cy="891.5" r="1.8"/>
<circle cx="488.0" cy="830.7" r="1.8"/>
<circle cx="488.0" cy="915.1" r="1.8"/>
<circle cx="488.0" cy="810.5" r="1.8"/>
<circle cx="488.0" cy="920.1" r="1.8"/>
<circle cx="488.0" cy="781.8" r="1.8"/>
<circle cx="489.7" cy="915.1" r="1.8"/>
<circle cx="489.7" cy="791.9" r="1.8"/>
<circle cx="489.7" cy="911.7" r="1.8"/>
<circle cx="489.7" cy="820.6" r="1.8"/>
<circle cx="498.2" cy="913.4" r="1.8"/>
<circle cx="498.2" cy="785.2" r="1.8"/>
<circle cx="505.1" cy="883.0" r="1.8"/>
<circle cx="505.1" cy="791.9" r="1.8"/>
<circle cx="506.8" cy="911.7" r="1.8"/>
<circle cx="506.8" cy="788.5" r="1.8"/>
<circle cx="508.5" cy="871.2" r="1.8"/>
<circle cx="508.5" cy="773.4" r="1.8"/>
<circle cx="511.9" cy="896.5" r="1.8"/>
<circle cx="511.9" cy="822.3" r="1.8"/>
<circle cx="515.3" cy="908.3" r="1.8"/>
<circle cx="515.3" cy="793.6" r="1.8"/>
<circle cx="515.3" cy="898.2" r="1.8"/>
<circle cx="515.3" cy="820.6" r="1.8"/>
<circle cx="532.4" cy="923.5" r="1.8"/>
<circle cx="532.4" cy="783.5" r="1.8"/>
<circle cx="544.3" cy="910.0" r="1.8"/>
<circle cx="544.3" cy="803.7" r="1.8"/>
<circle cx="554.6" cy="889.8" r="1.8"/>
<circle cx="554.6" cy="812.2" r="1.8"/>
<circle cx="573.4" cy="906.6" r="1.8"/>
<circle cx="573.4" cy="797.0" r="1.8"/>
</g>
<rect x="355.6" y="761.8" width="228.69999999999993" height="181.30000000000007" fill="none" stroke="#777" stroke-width="1.3"/>
<line x1="373.57" y1="943.1" x2="373.57" y2="945.1" stroke="#555" stroke-width="0.6"/>
<text class="s" x="373.57" y="951.1" font-size="5.4" text-anchor="middle">20</text>
<line x1="407.72" y1="943.1" x2="407.72" y2="945.1" stroke="#555" stroke-width="0.6"/>
<text class="s" x="407.72" y="951.1" font-size="5.4" text-anchor="middle">40</text>
<line x1="441.88" y1="943.1" x2="441.88" y2="945.1" stroke="#555" stroke-width="0.6"/>
<text class="s" x="441.88" y="951.1" font-size="5.4" text-anchor="middle">60</text>
<line x1="476.03" y1="943.1" x2="476.03" y2="945.1" stroke="#555" stroke-width="0.6"/>
<text class="s" x="476.03" y="951.1" font-size="5.4" text-anchor="middle">80</text>
<line x1="510.18" y1="943.1" x2="510.18" y2="945.1" stroke="#555" stroke-width="0.6"/>
<text class="s" x="510.18" y="951.1" font-size="5.4" text-anchor="middle">100</text>
<line x1="544.33" y1="943.1" x2="544.33" y2="945.1" stroke="#555" stroke-width="0.6"/>
<text class="s" x="544.33" y="951.1" font-size="5.4" text-anchor="middle">120</text>
<line x1="578.48" y1="943.1" x2="578.48" y2="945.1" stroke="#555" stroke-width="0.6"/>
<text class="s" x="578.48" y="951.1" font-size="5.4" text-anchor="middle">140</text>
<line x1="353.6" y1="937.00" x2="355.6" y2="937.00" stroke="#555" stroke-width="0.6"/>
<text class="s" x="352.40000000000003" y="939.00" font-size="5.4" text-anchor="end">0</text>
<line x1="353.6" y1="903.26" x2="355.6" y2="903.26" stroke="#555" stroke-width="0.6"/>
<text class="s" x="352.40000000000003" y="905.26" font-size="5.4" text-anchor="end">20</text>
<line x1="353.6" y1="869.52" x2="355.6" y2="869.52" stroke="#555" stroke-width="0.6"/>
<text class="s" x="352.40000000000003" y="871.52" font-size="5.4" text-anchor="end">40</text>
<line x1="353.6" y1="835.78" x2="355.6" y2="835.78" stroke="#555" stroke-width="0.6"/>
<text class="s" x="352.40000000000003" y="837.78" font-size="5.4" text-anchor="end">60</text>
<line x1="353.6" y1="802.04" x2="355.6" y2="802.04" stroke="#555" stroke-width="0.6"/>
<text class="s" x="352.40000000000003" y="804.04" font-size="5.4" text-anchor="end">80</text>
<line x1="353.6" y1="768.30" x2="355.6" y2="768.30" stroke="#555" stroke-width="0.6"/>
<text class="s" x="352.40000000000003" y="770.30" font-size="5.4" text-anchor="end">100</text>
<text class="s" x="469" y="757.7" font-size="7.2" text-anchor="middle">Income vs Spending Score</text>
<text class="s" x="469" y="959" font-size="5.1" text-anchor="middle">Annual Income (k$)</text>
<text class="s" transform="translate(338.2,852.6) rotate(-90)" font-size="5.1" text-anchor="middle">Spending Score (1-100)</text>
</svg>
</body></html>
